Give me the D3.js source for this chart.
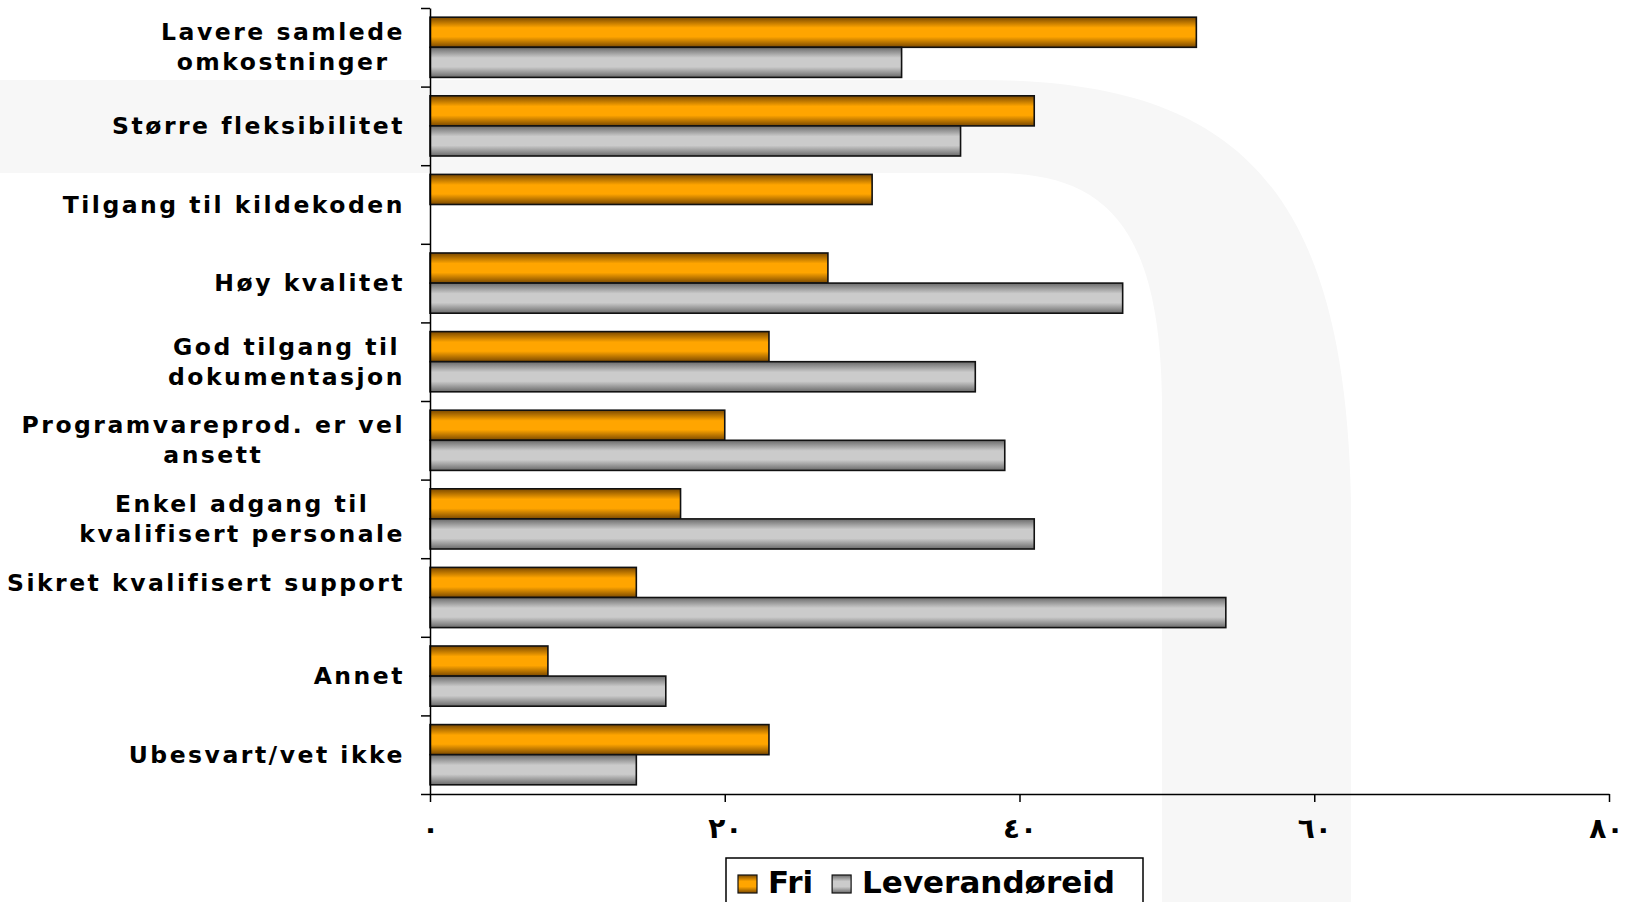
<!DOCTYPE html>
<html lang="no">
<head>
    <meta charset="UTF-8">
    <title>Fri vs Leverandøreid</title>
    <script src="https://cdn.jsdelivr.net/npm/d3@7"></script>
    <style>
        body { margin: 0; background: #fff; }
        svg { display: block; }
        .lbl { font-family: "DejaVu Sans", sans-serif; font-weight: bold; font-size: 23.5px; letter-spacing: 2.5px; fill: #000; }
        .tick-lbl { font-family: "DejaVu Sans", sans-serif; font-weight: bold; font-size: 28px; letter-spacing: 9px; }
        .leg { font-family: "DejaVu Sans", sans-serif; font-weight: bold; font-size: 31px; fill: #000; }
    </style>
</head>
<body>
<div id="myDiv"></div>

<script>

    // data
    const categories = [
        "Lavere samlede\nomkostninger",
        "Større fleksibilitet",
        "Tilgang til kildekoden",
        "Høy kvalitet",
        "God tilgang til\ndokumentasjon",
        "Programvareprod. er vel\nansett",
        "Enkel adgang til\nkvalifisert personale",
        "Sikret kvalifisert support\n",
        "Annet",
        "Ubesvart/vet ikke"
    ];
    const seriesNames = ["Fri", "Leverandøreid"];
    const friValues = [52, 41, 30, 27, 23, 20, 17, 14, 8, 23];
    const levValues = [32, 36, null, 47, 37, 39, 41, 54, 16, 14];
    const tickValues = [0, 20, 40, 60, 80];
    const tickLabels = ["٠", "٢٠", "٤٠", "٦٠", "٨٠"];

    const W = 1626, H = 902;
    const plotLeft = 430, plotRight = 1609, plotTop = 8, plotBottom = 794;

    const svg = d3.select("#myDiv").append("svg")
        .attr("width", W)
        .attr("height", H);

    const defs = svg.append("defs");
    function grad(id, edge, mid) {
        let g = defs.append("linearGradient").attr("id", id)
            .attr("x1", 0).attr("y1", 0).attr("x2", 0).attr("y2", 1);
        g.append("stop").attr("offset", "0%").attr("stop-color", edge);
        g.append("stop").attr("offset", "35%").attr("stop-color", mid);
        g.append("stop").attr("offset", "65%").attr("stop-color", mid);
        g.append("stop").attr("offset", "100%").attr("stop-color", edge);
    }
    grad("gFri", "#7a4800", "#ffa500");
    grad("gLev", "#6a6a6a", "#cbcbcb");
    const fills = ["url(#gFri)", "url(#gLev)"];

    // light background shape
    svg.append("path")
        .attr("d", "M0,80 H980 C1230,80 1345,180 1351,500 V902 H1162 V400 C1160,220 1100,175 1000,173 H0 Z")
        .attr("fill", "#f7f7f7");

    // scales
    const x = d3.scaleLinear().domain([0, 80]).range([plotLeft, plotRight]);
    const y0 = d3.scaleBand().domain(categories).range([plotTop, plotBottom])
        .paddingInner(0.234).paddingOuter(0.117);
    const y1 = d3.scaleBand().domain(seriesNames).range([0, y0.bandwidth()]);
    const yB = d3.scaleLinear().domain([0, categories.length]).range([plotTop, plotBottom]);

    // bars
    const rows = [];
    categories.forEach(function(c, i) {
        rows.push({cat: c, s: 0, v: friValues[i]});
        rows.push({cat: c, s: 1, v: levValues[i]});
    });

    svg.append("g")
        .selectAll("rect")
        .data(rows.filter(function(d) { return d.v !== null; }))
        .enter()
        .append("rect")
        .attr("x", x(0))
        .attr("y", function(d) { return y0(d.cat) + y1(seriesNames[d.s]); })
        .attr("width", function(d) { return x(d.v) - x(0); })
        .attr("height", y1.bandwidth())
        .attr("fill", function(d) { return fills[d.s]; })
        .attr("stroke", "#111")
        .attr("stroke-width", 1.6);

    // x axis
    const xAxis = svg.append("g")
        .attr("transform", "translate(0," + plotBottom + ")")
        .call(d3.axisBottom(x).tickValues(tickValues).tickSize(8).tickSizeOuter(0)
            .tickFormat(function(d, i) { return tickLabels[i]; }));
    xAxis.select(".domain").attr("stroke", "#000").attr("stroke-width", 1.5);
    xAxis.selectAll(".tick line").attr("stroke", "#000").attr("stroke-width", 1.5);
    xAxis.selectAll(".tick text")
        .attr("class", "tick-lbl")
        .attr("y", 24)
        .attr("dx", 0)
        .attr("fill", "#000");
    // keep the last label inside the page
    xAxis.selectAll(".tick text")
        .filter(function(d) { return d === 80; })
        .attr("text-anchor", "end")
        .attr("dx", W - 3 - plotRight);

    // y axis, ticks at category boundaries
    const yAxis = svg.append("g")
        .attr("transform", "translate(" + plotLeft + ",0)")
        .call(d3.axisLeft(yB).ticks(categories.length).tickSize(9).tickSizeOuter(0).tickFormat(""));
    yAxis.select(".domain").attr("stroke", "#000").attr("stroke-width", 1.5);
    yAxis.selectAll(".tick line").attr("stroke", "#000").attr("stroke-width", 1.5);

    // category labels
    const labelRight = 405;
    categories.forEach(function(c) {
        let lines = c.split("\n");
        let cy = y0(c) + y0.bandwidth() / 2;
        let t = svg.append("text").attr("class", "lbl").attr("text-anchor", "middle");
        let spans = [];
        lines.forEach(function(l, i) {
            spans.push(t.append("tspan")
                .attr("y", cy + (i - (lines.length - 1) / 2) * 30 + 8)
                .text(l));
        });
        let maxW = d3.max(spans, function(s) { return s.node().getComputedTextLength(); });
        spans.forEach(function(s) { s.attr("x", labelRight - maxW / 2); });
    });

    // legend
    const leg = svg.append("g");
    leg.append("rect")
        .attr("x", 726).attr("y", 858)
        .attr("width", 417).attr("height", 70)
        .attr("fill", "#fff")
        .attr("stroke", "#000")
        .attr("stroke-width", 1.5);

    let lx = 738;
    seriesNames.forEach(function(name, i) {
        leg.append("rect")
            .attr("x", lx).attr("y", 875)
            .attr("width", 19).attr("height", 18)
            .attr("fill", fills[i])
            .attr("stroke", "#111")
            .attr("stroke-width", 1.2);
        let t = leg.append("text")
            .attr("class", "leg")
            .attr("x", lx + 30).attr("y", 893)
            .text(name);
        lx = lx + 30 + t.node().getComputedTextLength() + 19;
    });

</script>

</body>
</html>
